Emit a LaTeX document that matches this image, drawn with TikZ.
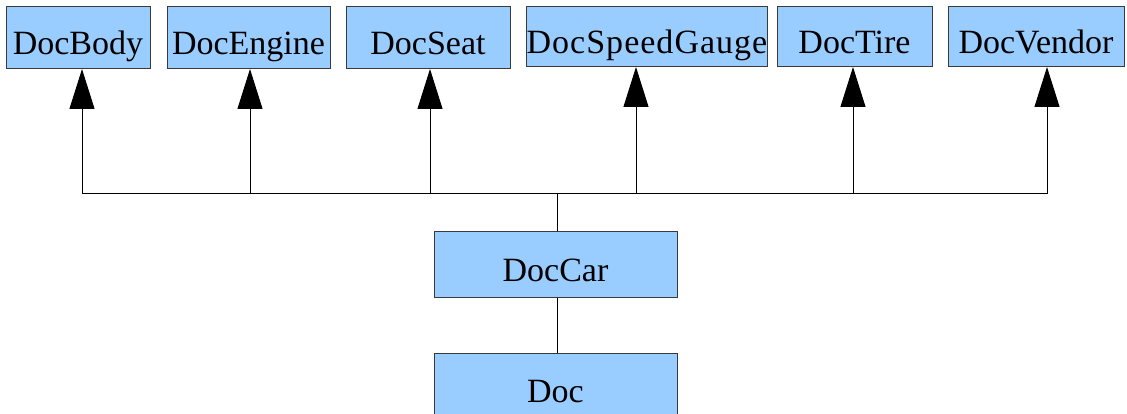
\documentclass[tikz,border=0pt]{standalone}
\usepackage{fontspec}
\setmainfont{Liberation Serif}
\usetikzlibrary{arrows.meta}
\definecolor{boxfill}{HTML}{99CCFF}
\definecolor{boxline}{HTML}{3A3A3A}
\tikzset{
  cls/.style={draw=boxline, fill=boxfill, line width=1pt, inner sep=0pt,
    minimum height=62pt, text height=40pt, text depth=6pt,
    font=\fontsize{34}{34}\selectfont},
  inherit/.style={draw=black, line width=1pt,
    -{Triangle[length=40pt, width=25pt]}},
  link/.style={draw=black, line width=1pt}
}
\begin{document}
\begin{tikzpicture}[x=1pt, y=1pt]
\useasboundingbox (0,0) rectangle (1127,-414);
% base classes along the top
\node[cls, minimum width=144pt] (body)  at (78,-38)   {DocBody};
\node[cls, minimum width=163pt] (engine) at (248.5,-38) {DocEngine};
\node[cls, minimum width=164pt] (seat)  at (428,-38)  {DocSeat};
\node[cls, minimum width=240pt, minimum height=60pt] (gauge) at (647,-37) {\fontsize{34}{34}\selectfont\addfontfeature{LetterSpace=3}DocSpeedGauge};
\node[cls, minimum width=155pt, minimum height=60pt] (tire)  at (854.5,-37) {DocTire};
\node[cls, minimum width=176pt, minimum height=60pt] (vendor) at (1036,-37) {DocVendor};
% derived classes
\node[cls, minimum width=243pt, minimum height=65pt] (car) at (555.5,-264.5) {DocCar};
\node[cls, minimum width=243pt, minimum height=65pt] (doc) at (555.5,-385.5) {Doc};
% inheritance tree
\coordinate (j) at (557,-194);
\draw[link] (car.north -| j) -- (j);
\draw[inherit] (j) -| (82,-69);
\draw[inherit] (j) -| (250,-69);
\draw[inherit] (j) -| (430,-69);
\draw[inherit] (j) -| (636,-67);
\draw[inherit] (j) -| (853,-67);
\draw[inherit] (j) -| (1047,-67);
\draw[link] (car.south -| j) -- (doc.north -| j);
\end{tikzpicture}
\end{document}
